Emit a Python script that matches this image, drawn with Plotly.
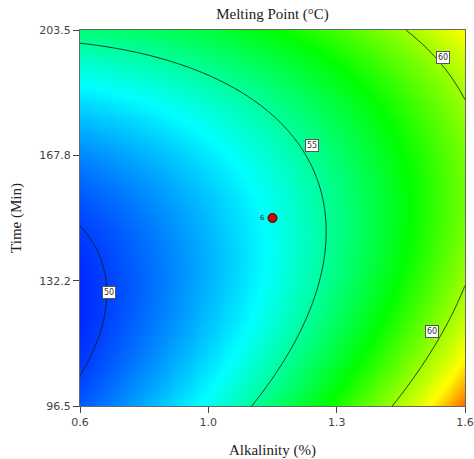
import numpy as np
import plotly.graph_objects as go

# Response-surface model (coded factors A: Alkalinity, B: Time)
coef_names = ["b0", "A", "B", "A2", "B2", "AB"]
coef_values = [53.643, 4.620, 0.888, 1.08, 2.91, -1.673]

x_range = [0.6, 1.6]          # Alkalinity (%)
y_range = [96.5, 203.5]       # Time (Min)
x_tickvals = [0.6, 0.9333, 1.2667, 1.6]
x_ticktext = ["0.6", "1.0", "1.3", "1.6"]
y_tickvals = [96.5, 132.17, 167.83, 203.5]
y_ticktext = ["96.5", "132.2", "167.8", "203.5"]
contour_levels = [50, 55, 60]
center_point = [1.1, 150.0]
center_reps = "6"
# contour label positions (x, y, text)
label_x = [0.675, 1.203, 1.543, 1.514]
label_y = [128.9, 170.5, 195.8, 117.6]
label_text = ["50", "55", "60", "60"]

# colour stops (response value -> colour)
color_values = [49.3, 53.4, 57.5, 61.5, 64.1]
color_names = ["rgb(0,25,255)", "rgb(0,255,255)", "rgb(0,255,0)", "rgb(255,255,0)", "rgb(255,0,0)"]

c = dict(zip(coef_names, coef_values))
xs = np.linspace(x_range[0], x_range[1], 201)
ys = np.linspace(y_range[0], y_range[1], 201)
X, Y = np.meshgrid(xs, ys)
A = (X - 1.1) / 0.5
B = (Y - 150.0) / 53.5
Z = c["b0"] + c["A"] * A + c["B"] * B + c["A2"] * A**2 + c["B2"] * B**2 + c["AB"] * A * B

zmin, zmax = color_values[0], color_values[-1]
colorscale = [[(v - zmin) / (zmax - zmin), col] for v, col in zip(color_values, color_names)]

fig = go.Figure()
fig.add_trace(go.Contour(
    x=xs, y=ys, z=Z,
    colorscale=colorscale, zmin=zmin, zmax=zmax,
    showscale=False,
    contours=dict(coloring="heatmap", start=contour_levels[0], end=contour_levels[-1],
                  size=contour_levels[1] - contour_levels[0]),
    line=dict(color="rgba(20,30,20,0.9)", width=1),
    hoverinfo="skip",
))
fig.add_trace(go.Scatter(
    x=[center_point[0]], y=[center_point[1]], mode="markers",
    marker=dict(color="#d40000", size=9, line=dict(color="#400000", width=1)),
    showlegend=False, hoverinfo="skip",
))

annotations = []
for lx, ly, lt in zip(label_x, label_y, label_text):
    annotations.append(dict(x=lx, y=ly, text=lt, showarrow=False,
                            font=dict(family="DejaVu Sans", size=8, color="#333"),
                            bgcolor="white", bordercolor="#555", borderwidth=1, borderpad=1))
annotations.append(dict(x=center_point[0], y=center_point[1], text=center_reps, showarrow=False,
                        xanchor="right", xshift=-6,
                        font=dict(family="DejaVu Sans", size=7, color="#333")))

fig.update_layout(
    width=474, height=459,
    margin=dict(l=80, r=9, t=30, b=53, autoexpand=False),
    paper_bgcolor="white", plot_bgcolor="white",
    title=dict(text="Melting Point (°C)", x=(80 + 465) / 2 / 474, xanchor="center",
               y=1 - 14 / 459, yanchor="middle",
               font=dict(family="Liberation Serif", size=15, color="#222")),
    annotations=annotations,
    showlegend=False,
)
fig.update_xaxes(
    range=x_range, tickvals=x_tickvals, ticktext=x_ticktext, automargin=False,
    ticks="outside", ticklen=6, tickcolor="#444", showgrid=False, zeroline=False,
    showline=True, linecolor="#666", linewidth=1, mirror=True,
    tickfont=dict(family="DejaVu Sans", size=11, color="#444"),
    title=dict(text="Alkalinity (%)", font=dict(family="Liberation Serif", size=15, color="#222"), standoff=16),
)
fig.update_yaxes(
    range=y_range, tickvals=y_tickvals, ticktext=y_ticktext, automargin=False,
    ticks="outside", ticklen=6, tickcolor="#444", showgrid=False, zeroline=False,
    showline=True, linecolor="#666", linewidth=1, mirror=True,
    tickfont=dict(family="DejaVu Sans", size=11, color="#444"),
    title=dict(text="Time (Min)", font=dict(family="Liberation Serif", size=15, color="#222"), standoff=14),
)

fig.write_html("out.html", config={"displayModeBar": False},
               post_script="document.body.style.margin='0';")
